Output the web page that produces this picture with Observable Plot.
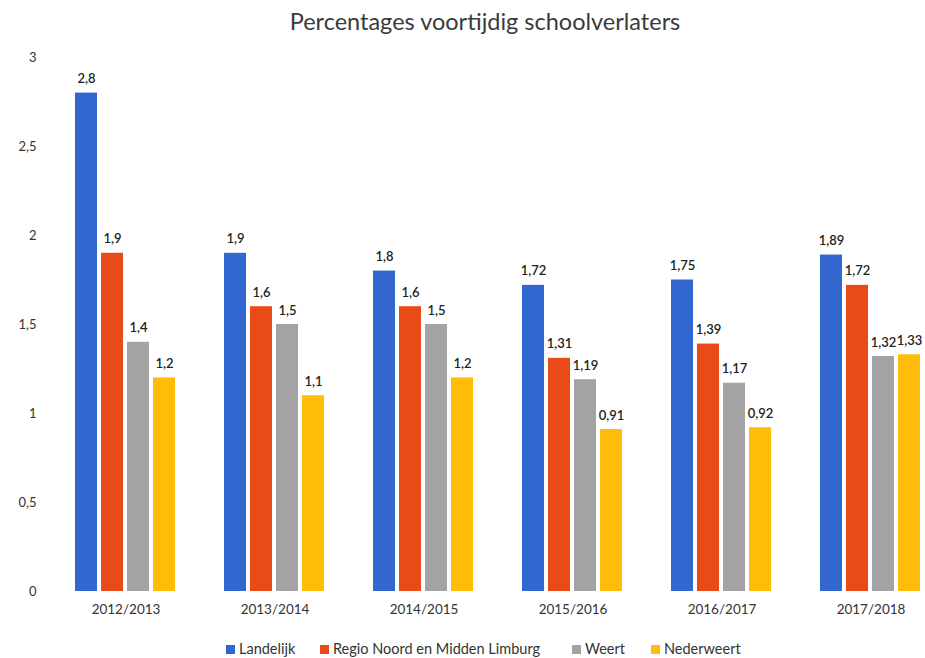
<!DOCTYPE html>
<html>
<head>
<meta charset="utf-8">
<script src="https://cdn.jsdelivr.net/npm/d3@7"></script>
<script src="https://cdn.jsdelivr.net/npm/@observablehq/plot@0.6"></script>
<style>
  html, body { margin: 0; padding: 0; background: #fff; }
  body { width: 925px; height: 658px; overflow: hidden; font-family: Lato, "Open Sans", sans-serif; }
  #title { height: 40px; line-height: 42px; text-align: center; font-size: 23.5px; color: #3a3a3a; padding-left: 45px; }
  #legend { position: relative; font-size: 14.5px; color: #333; height: 18px; line-height: 18px; }
  #legend .item { position: absolute; top: 0; white-space: nowrap; }
  #legend span.sw { display: inline-block; width: 9px; height: 9px; margin-right: 4px; vertical-align: 0px; }
</style>
</head>
<body>
<div id="title">Percentages voortijdig schoolverlaters</div>
<div id="chart"></div>
<div id="legend"></div>
<script>
const years = ["2012/2013", "2013/2014", "2014/2015", "2015/2016", "2016/2017", "2017/2018"];
const seriesNames = ["Landelijk", "Regio Noord en Midden Limburg", "Weert", "Nederweert"];
const colors = ["#3167cf", "#e84b17", "#a3a3a3", "#ffbd0a"];
const landelijk = [2.8, 1.9, 1.8, 1.72, 1.75, 1.89];
const regio = [1.9, 1.6, 1.6, 1.31, 1.39, 1.72];
const weert = [1.4, 1.5, 1.5, 1.19, 1.17, 1.32];
const nederweert = [1.2, 1.1, 1.2, 0.91, 0.92, 1.33];
const yTicks = [0, 0.5, 1, 1.5, 2, 2.5, 3];

const seriesValues = [landelijk, regio, weert, nederweert];
const data = [];
years.forEach((y, i) => {
  seriesNames.forEach((s, j) => {
    data.push({year: y, series: s, value: seriesValues[j][i]});
  });
});
const comma = v => String(v).replace(".", ",");

const chart = Plot.plot({
  width: 925,
  height: 600,
  marginTop: 17,
  marginBottom: 49,
  marginLeft: 48,
  marginRight: 0,
  style: {fontFamily: "Lato, 'Open Sans', sans-serif", background: "#fff"},
  fx: {domain: years, range: [48, 947], padding: 0, label: null},
  x: {domain: seriesNames, paddingInner: 0.15, paddingOuter: 0.85, axis: null},
  y: {domain: [0, 3], label: null},
  color: {domain: seriesNames, range: colors},
  marks: [
    Plot.axisY({ticks: yTicks, tickFormat: comma, tickSize: 0, tickPadding: 15, fontSize: 13, fill: "#333", label: null}),
    Plot.axisFx({anchor: "bottom", tickSize: 0, tickPadding: 13, fontSize: 13.5, fill: "#333", label: null}),
    Plot.barY(data, {fx: "year", x: "series", y: "value", fill: "series"}),
    Plot.text(data, {fx: "year", x: "series", y: "value", text: d => comma(d.value), lineAnchor: "bottom", dy: -10, fontSize: 13, fontWeight: 600, fill: "#222"})
  ]
});
document.getElementById("chart").appendChild(chart);

const legendLeft = [226, 320, 572, 651];
const legend = document.getElementById("legend");
seriesNames.forEach((s, j) => {
  const item = document.createElement("div");
  item.className = "item";
  item.style.left = legendLeft[j] + "px";
  item.innerHTML = `<span class="sw" style="background:${colors[j]}"></span>${s}`;
  legend.appendChild(item);
});
</script>
</body>
</html>
